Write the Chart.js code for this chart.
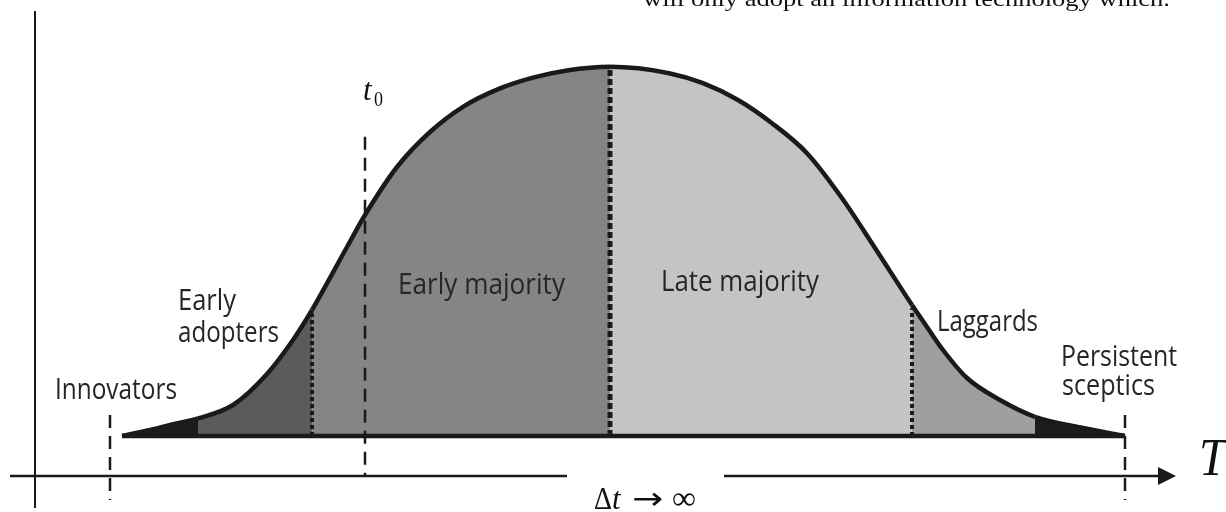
<!DOCTYPE html>
<html>
<head>
<meta charset="utf-8">
<script src="https://cdn.jsdelivr.net/npm/chart.js@4.4.0/dist/chart.umd.min.js"></script>
<style>
  html, body { margin: 0; padding: 0; background: #fff; }
  canvas { display: block; }
</style>
</head>
<body>
<canvas id="adoptionChart" width="1226" height="512"></canvas>
<script>
// adoption curve (x = time, y = share of adopters)
const curveX = [8.7, 11.5, 13.5, 16.3, 19.8, 23.2, 25.8, 27.7, 31.2, 33, 36.2, 39.5, 42.8, 46.5, 49.8, 53.2, 57.5,
                63.4, 66.8, 70.3, 73.7, 77.2, 80.6, 84, 87.7, 89.2, 90.8, 93.2, 96.5, 100, 104.8, 109];
const curveY = [0, 1.5, 2.75, 4.4, 7.75, 15.5, 24, 31.5, 47.25, 55.25, 67.25, 76, 82.3, 86.9, 89.6, 91.4, 92.3,
                90.7, 88.2, 84, 78.2, 70.7, 59.8, 47, 32.75, 27.25, 21.5, 14.5, 9, 4.8, 2, 0];

// adopter groups: where each one starts on the time axis
const groupStart = [8.7, 16.3, 27.7, 57.5, 87.7, 100];
const groupColor = ['#1c1c1c', '#5b5b5b', '#858585', '#c4c4c4', '#9f9f9f', '#1c1c1c'];
const dottedAt = [27.7, 57.5, 87.7];

// dashed markers: innovators start, t0, sceptics end
const markerX = [7.5, 33, 109];
const markerTop = [5.25, 74.8, 5.25];
const markerBottom = [-16, -10, -16];

const ink = '#1a1a1a';

function groupColorAt(x) {
    let c = groupColor[0];
    groupStart.forEach((s, i) => { if (x >= s - 0.001) c = groupColor[i]; });
    return c;
}

const curvePoints = curveX.map((x, i) => ({ x: x, y: curveY[i] }));

const datasets = [{
    data: curvePoints,
    borderColor: ink,
    borderWidth: 4.5,
    fill: 'origin',
    backgroundColor: groupColor[0],
    cubicInterpolationMode: 'monotone',
    pointRadius: 0,
    order: 10,
    segment: {
        backgroundColor: ctx => groupColorAt(ctx.p0.parsed.x)
    }
}];

// dotted borders between groups, up to the curve
dottedAt.forEach((b, k) => {
    const idx = curveX.indexOf(b);
    datasets.push({
        data: [{ x: b, y: 0 }, { x: b, y: curveY[idx] - 0.8 }],
        borderColor: ink,
        borderWidth: k === 1 ? 5 : 4,
        borderDash: k === 1 ? [6, 3] : [4, 3],
        borderCapStyle: 'butt',
        pointRadius: 0,
        fill: false,
        order: 8
    });
});

// base line of the curve
datasets.push({
    data: [{ x: curveX[0], y: 0 }, { x: curveX[curveX.length - 1], y: 0 }],
    borderColor: ink,
    borderWidth: 4.5,
    pointRadius: 0,
    fill: false,
    order: 6
});

markerX.forEach((m, i) => {
    datasets.push({
        data: [{ x: m, y: markerTop[i] }, { x: m, y: markerBottom[i] }],
        borderColor: ink,
        borderWidth: 2.5,
        borderDash: [13, 8],
        pointRadius: 0,
        fill: false,
        clip: false,
        order: 4
    });
});

// text squeezed to the width seen in the picture (width null = natural)
function fitText(ctx, text, font, x, y, width) {
    ctx.save();
    ctx.font = font;
    const w = ctx.measureText(text).width;
    ctx.translate(x, y);
    if (width) ctx.scale(width / w, 1);
    ctx.fillText(text, 0, 0);
    ctx.restore();
}

const labelFont = '29px "Open Sans"';
const serif = '"Liberation Serif", "DejaVu Serif", serif';

const decorations = {
    id: 'decorations',
    afterDatasetsDraw(chart) {
        const ctx = chart.ctx;
        const xs = chart.scales.x, ys = chart.scales.y;
        ctx.save();
        ctx.strokeStyle = ink;
        ctx.fillStyle = ink;

        // vertical axis
        const ax = xs.getPixelForValue(0);
        ctx.lineWidth = 2;
        ctx.beginPath();
        ctx.moveTo(ax, ys.getPixelForValue(106.25));
        ctx.lineTo(ax, ys.getPixelForValue(-18));
        ctx.stroke();

        // time axis with a gap for the label and an arrow head
        const ay = ys.getPixelForValue(-10);
        ctx.lineWidth = 2.5;
        ctx.beginPath();
        ctx.moveTo(xs.getPixelForValue(-2.5), ay);
        ctx.lineTo(xs.getPixelForValue(53.2), ay);
        ctx.moveTo(xs.getPixelForValue(68.9), ay);
        ctx.lineTo(xs.getPixelForValue(112.5), ay);
        ctx.stroke();
        const tip = xs.getPixelForValue(114.1);
        const base = xs.getPixelForValue(112.3);
        ctx.beginPath();
        ctx.moveTo(tip, ay);
        ctx.lineTo(base, ay - 9);
        ctx.lineTo(base, ay + 9);
        ctx.closePath();
        ctx.fill();

        // group labels
        ctx.fillStyle = '#262626';
        ctx.textBaseline = 'alphabetic';
        fitText(ctx, 'Innovators', labelFont, 55, 399, 122);
        fitText(ctx, 'Early', labelFont, 178, 310, 58);
        fitText(ctx, 'adopters', labelFont, 178, 342, 101);
        fitText(ctx, 'Early majority', labelFont, 398, 294, 167);
        fitText(ctx, 'Late majority', labelFont, 661, 291, 158);
        fitText(ctx, 'Laggards', labelFont, 937, 331, 101);
        fitText(ctx, 'Persistent', labelFont, 1061, 366, 116);
        fitText(ctx, 'sceptics', labelFont, 1062, 395, 93);

        // math labels
        ctx.fillStyle = '#111';
        fitText(ctx, 't', 'italic 31px ' + serif, 363, 100, null);
        fitText(ctx, '0', '21px ' + serif, 374, 106, 9);
        fitText(ctx, 'T', 'italic 52px ' + serif, 1199, 475, 27);
        fitText(ctx, 'Δ', '31px ' + serif, 594, 509, 18);
        fitText(ctx, 't', 'italic 31px ' + serif, 612, 509, null);
        fitText(ctx, '→', '31px "DejaVu Sans"', 632, 509, 31);
        fitText(ctx, '∞', '33px ' + serif, 672, 509, 24);

        // caption line cut off at the top
        fitText(ctx, 'will only adopt an information technology which.', '22px ' + serif, 643, 6, 527);
        ctx.restore();
    }
};

new Chart(document.getElementById('adoptionChart'), {
    type: 'line',
    data: { datasets: datasets },
    options: {
        responsive: false,
        animation: false,
        events: [],
        layout: { padding: { left: 35, right: 51, top: 15, bottom: 36 } },
        plugins: {
            legend: { display: false },
            tooltip: { enabled: false }
        },
        scales: {
            x: { type: 'linear', min: 0, max: 114, display: false },
            y: { min: -10, max: 105.25, display: false }
        }
    },
    plugins: [decorations]
});
</script>
</body>
</html>
